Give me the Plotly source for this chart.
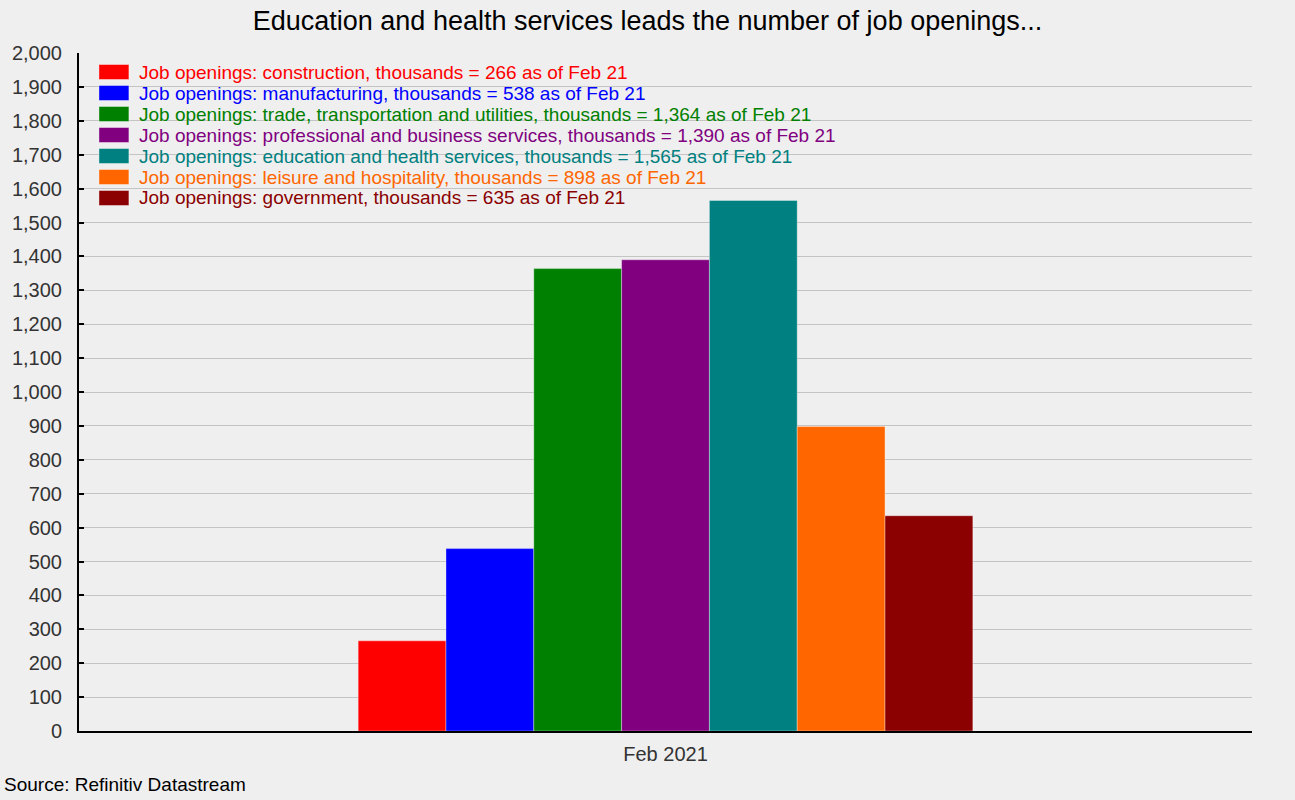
import plotly.graph_objects as go

# data
period = ["Feb 2021"]
sectors = ["construction", "manufacturing", "trade, transportation and utilities",
           "professional and business services", "education and health services",
           "leisure and hospitality", "government"]
openings = [266, 538, 1364, 1390, 1565, 898, 635]
colors = ["#FF0000", "#0000FF", "#008000", "#800080", "#008080", "#FF6600", "#8B0000"]
y_ticks = list(range(0, 2001, 100))

FONT = "Liberation Sans, Arial, sans-serif"
BG = "#EFEFEF"

fig = go.Figure()
for sector, value, color in zip(sectors, openings, colors):
    fig.add_trace(go.Bar(
        x=period, y=[value], name=sector, marker=dict(color=color, line=dict(color="rgba(255,255,255,0.35)", width=1)),
        showlegend=False))

# hand-built legend: coloured box + coloured text per series
top_px, bottom_px, left_px, right_px = 53, 731, 77, 1252
plot_h, plot_w = bottom_px - top_px, right_px - left_px
for i, (sector, value, color) in enumerate(zip(sectors, openings, colors)):
    yc = 72 + 21 * i
    y0 = (bottom_px - (yc + 7.5)) / plot_h
    y1 = (bottom_px - (yc - 7.5)) / plot_h
    fig.add_shape(type="rect", xref="paper", yref="paper", x0=(97 - left_px) / plot_w, x1=(127 - left_px) / plot_w,
                  y0=y0, y1=y1, fillcolor=color, line=dict(color="rgba(255,255,255,0.4)", width=1))
    fig.add_annotation(
        xref="paper", yref="paper", x=(135 - left_px) / plot_w, y=(bottom_px - yc) / plot_h, xanchor="left",
        yanchor="middle", showarrow=False, text=f"Job openings: {sector}, thousands = {value:,} as of Feb 21",
        font=dict(family=FONT, size=19, color=color))

fig.add_annotation(xref="paper", yref="paper", x=-(left_px) / plot_w, y=-(785 - bottom_px) / plot_h, xanchor="left",
                   yanchor="middle", showarrow=False, text="Source: Refinitiv Datastream",
                   font=dict(family=FONT, size=19, color="#000000"))

fig.update_layout(
    width=1295, height=800, paper_bgcolor=BG, plot_bgcolor=BG, barmode="group", bargap=0.476, bargroupgap=0,
    margin=dict(l=left_px, r=1295 - right_px, t=top_px, b=800 - bottom_px),
    font=dict(family=FONT, size=20, color="#222222"),
    title=dict(text="Education and health services leads the number of job openings...", x=0.5, xanchor="center",
               y=0.974, yanchor="middle", font=dict(family=FONT, size=27, color="#000000")),
    xaxis=dict(type="category", showline=True, linecolor="#000000", linewidth=2, ticks="", showgrid=False,
               tickfont=dict(size=20, color="#333333"), ticklabelstandoff=4),
    yaxis=dict(range=[0, 2000], tickvals=y_ticks, ticktext=[f"{v:,}" for v in y_ticks], showline=True,
               linecolor="#000000", linewidth=2, ticks="inside", ticklen=5, tickwidth=2, tickcolor="#000000",
               gridcolor="#C4C4C4", gridwidth=1, zeroline=False, tickfont=dict(size=20, color="#333333"),
               ticklabelstandoff=11),
    showlegend=False)

fig.write_html("out.html", config={"displayModeBar": False}, post_script="document.body.style.margin='0';")
